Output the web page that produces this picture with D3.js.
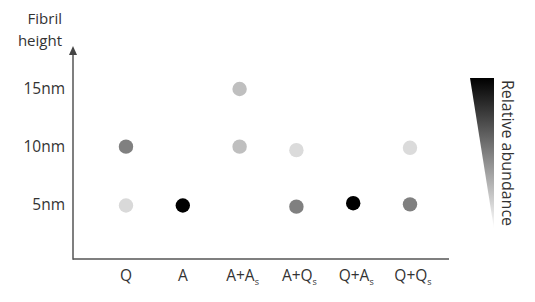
<!DOCTYPE html>
<html>
<head>
<meta charset="utf-8">
<script src="https://cdn.jsdelivr.net/npm/d3@7"></script>
<style>
body { margin: 0; background: #fff; }
text { font-family: "Open Sans", "Liberation Sans", sans-serif; fill: #333; }
</style>
</head>
<body>
<div id="chart"></div>
<script>
// categories along the x axis: [main, subscript]
var categories = [["Q", ""], ["A", ""], ["A+A", "s"], ["A+Q", "s"], ["Q+A", "s"], ["Q+Q", "s"]];
var heightTicks = [5, 10, 15];
var tickLabels = ["5nm", "10nm", "15nm"];
// one entry per dot: category index, fibril height (nm), relative abundance (0..1)
var dotCategory = [0, 0, 1, 2, 2, 3, 3, 4, 5, 5];
var dotHeight = [10, 4.9, 4.9, 15, 10, 9.7, 4.8, 5.1, 9.9, 5.0];
var dotAbundance = [0.5, 0.15, 1.0, 0.25, 0.25, 0.14, 0.5, 1.0, 0.14, 0.5];

function draw() {
    var width = 535, height = 302;
    var svg = d3.select("#chart").append("svg")
        .attr("width", width).attr("height", height);

    var x = d3.scalePoint().domain(d3.range(categories.length))
        .range([126, 410]);
    var y = d3.scaleLinear().domain([0, 15]).range([262, 89]);
    var shade = d3.scaleLinear().domain([0, 1]).range(["#ffffff", "#000000"]);

    var axisX = 73, axisY = 259;

    // axes lines
    svg.append("line")
        .attr("x1", axisX).attr("y1", axisY)
        .attr("x2", 449).attr("y2", axisY)
        .attr("stroke", "#555").attr("stroke-width", 1.5);
    svg.append("line")
        .attr("x1", axisX).attr("y1", axisY + 0.75)
        .attr("x2", axisX).attr("y2", 52)
        .attr("stroke", "#555").attr("stroke-width", 1.5);
    svg.append("path")
        .attr("d", "M" + (axisX - 4) + ",55 L" + axisX + ",46 L" + (axisX + 4) + ",55 Z")
        .attr("fill", "#444");

    // axis title
    svg.append("text").attr("x", 62).attr("y", 24)
        .attr("text-anchor", "end").style("font-size", "15px").text("Fibril");
    svg.append("text").attr("x", 62).attr("y", 46)
        .attr("text-anchor", "end").style("font-size", "15px").text("height");

    // y tick labels
    svg.append("g").selectAll("text").data(heightTicks).enter().append("text")
        .attr("x", 65)
        .attr("y", function (d) { return y(d); })
        .attr("dy", "0.35em")
        .attr("text-anchor", "end")
        .style("font-size", "15.5px")
        .text(function (d, i) { return tickLabels[i]; });

    // x category labels
    var cats = svg.append("g").selectAll("text").data(categories).enter().append("text")
        .attr("x", function (d, i) { return x(i) + (d[1] ? 3 : 0); })
        .attr("y", 281)
        .attr("text-anchor", "middle")
        .style("font-size", "15.5px");
    cats.append("tspan").text(function (d) { return d[0]; });
    cats.append("tspan")
        .attr("dy", 4)
        .style("font-size", "9px")
        .text(function (d) { return d[1]; });

    // dots
    svg.append("g").selectAll("circle").data(dotHeight).enter().append("circle")
        .attr("cx", function (d, i) { return x(dotCategory[i]); })
        .attr("cy", function (d) { return y(d); })
        .attr("r", 7.2)
        .attr("fill", function (d, i) { return shade(dotAbundance[i]); });

    // legend: tapered gradient wedge
    var defs = svg.append("defs");
    var grad = defs.append("linearGradient").attr("id", "abund")
        .attr("x1", 0).attr("y1", 0).attr("x2", 0).attr("y2", 1);
    grad.append("stop").attr("offset", "0%").attr("stop-color", shade(1));
    grad.append("stop").attr("offset", "100%").attr("stop-color", shade(0));
    svg.append("path")
        .attr("d", "M470,78 L494,78 L494,229 Z")
        .attr("fill", "url(#abund)");
    svg.append("text")
        .attr("transform", "translate(502,153) rotate(90)")
        .attr("text-anchor", "middle")
        .style("font-size", "16px")
        .text("Relative abundance");
}

draw();
</script>
</body>
</html>
